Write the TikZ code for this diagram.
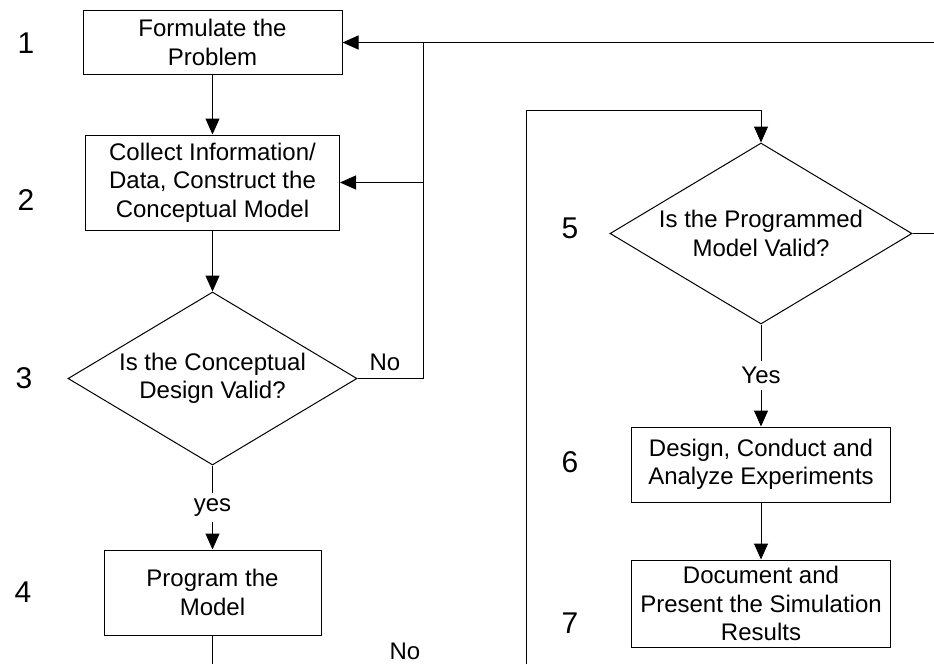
\documentclass[tikz,border=0pt]{standalone}
\usepackage{fontspec}
\setmainfont{Liberation Sans}
\usetikzlibrary{shapes.geometric,arrows.meta}

\begin{document}
\begin{tikzpicture}[x=1pt,y=-1pt,
  line width=1pt,
  every node/.style={font=\fontsize{24}{28.5}\selectfont},
  procbox/.style={draw, rectangle, inner sep=0pt, align=center},
  decision/.style={draw, diamond, aspect=1.67, inner sep=0pt, align=center},
  steplabel/.style={font=\fontsize{30}{30}\selectfont, inner sep=0pt},
  flow/.style={-{Triangle[length=16pt,width=14pt]}},
  edgetext/.style={fill=white, inner xsep=2pt, inner ysep=6pt},
]
\useasboundingbox (0,0) rectangle (934,664);

% process boxes and decisions
\node[procbox, minimum width=259pt, minimum height=64pt] (b1) at (212.5,42.5) {Formulate the\\Problem};
\node[procbox, minimum width=254pt, minimum height=95pt] (b2) at (212.5,182.5) {Collect Information/\\Data, Construct the\\Conceptual Model};
\node[decision, minimum width=289pt, minimum height=173pt] (d3) at (212.5,378.5) {Is the Conceptual\\Design Valid?};
\node[procbox, minimum width=217pt, minimum height=85pt] (b4) at (212.5,592.5) {Program the\\Model};
\node[decision, minimum width=302pt, minimum height=181pt] (d5) at (761,233.5) {Is the Programmed\\Model Valid?};
\node[procbox, minimum width=259pt, minimum height=75pt] (b6) at (761,464.5) {Design, Conduct and\\Analyze Experiments};
\node[procbox, minimum width=259pt, minimum height=87pt] (b7) at (761,603.5) {Document and\\Present the Simulation\\Results};

% step numbers
\node[steplabel] (n1) at (26,43) {1};
\node[steplabel] (n2) at (26,200) {2};
\node[steplabel] (n3) at (24,378) {3};
\node[steplabel] (n4) at (23,592) {4};
\node[steplabel] (n5) at (570,228) {5};
\node[steplabel] (n6) at (570,462) {6};
\node[steplabel] (n7) at (570,623) {7};

% free line ends
\coordinate (topright) at (934,42.5);
\coordinate (fbtop) at (423,42.5);
\coordinate (bottom4) at (212.5,664);
\coordinate (loopbot) at (526,664);
\coordinate (looptop) at (526,110);
\coordinate (d5out) at (934,233.5);

% main flow
\draw[flow] (b1.south) -- (b2.north);
\draw[flow] (b2.south) -- (d3.north);
\draw[flow] (d3.south) -- node[edgetext] (yes3) {yes} (b4.north);
\draw (b4.south) -- (bottom4);

% feedback from decision 3
\draw (d3.east) -| (fbtop);
\draw[flow] (b2.east -| fbtop) -- (b2.east);
\draw[flow] (topright) -- (b1.east);
\node (no3) at (385,362) {No};

% right-hand column
\draw[flow] (loopbot) -- (looptop) -| (d5.north);
\draw (d5.east) -- (d5out);
\draw[flow] (d5.south) -- node[edgetext] (yes5) {Yes} (b6.north);
\draw[flow] (b6.south) -- (b7.north);
\node (no4) at (405,651) {No};
\end{tikzpicture}
\end{document}
